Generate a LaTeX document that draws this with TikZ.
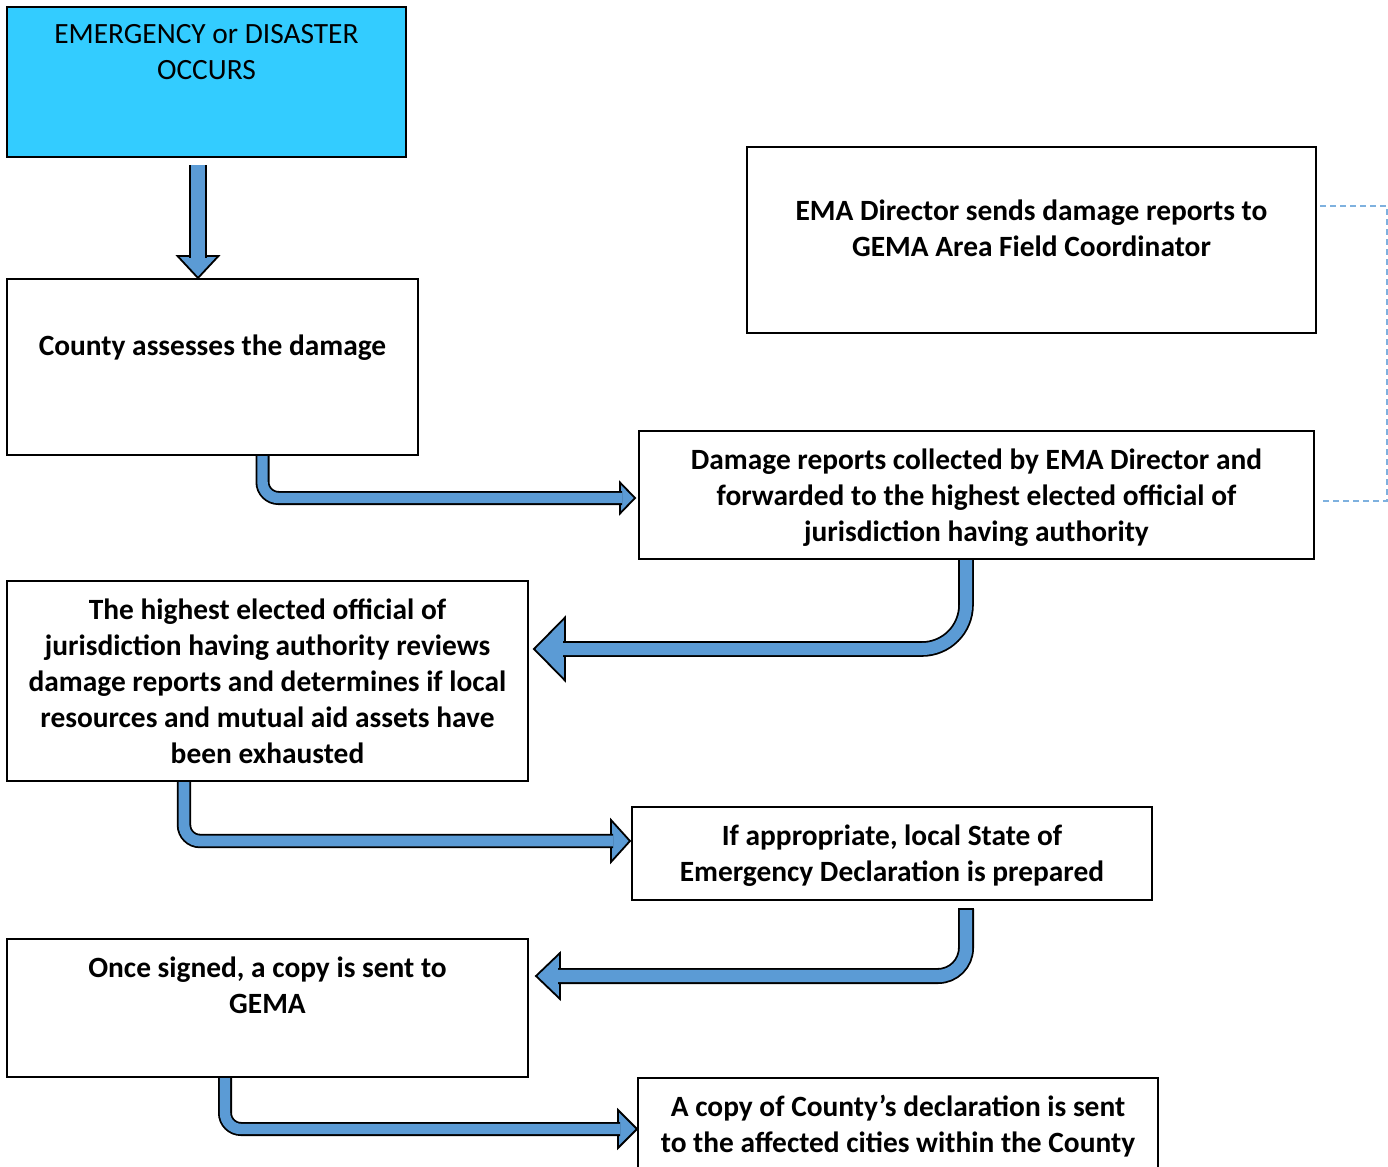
\documentclass[tikz,border=0pt]{standalone}
\usepackage{fontspec}
\setmainfont{Carlito}
\usetikzlibrary{positioning}
\definecolor{skyfill}{HTML}{33CCFF}
\definecolor{arblue}{HTML}{5B9BD5}
\definecolor{lnkblue}{HTML}{7EB1DF}

\begin{document}
\begin{tikzpicture}[
  x=0.5pt, y=-0.5pt,
  box/.style={draw=black, line width=1pt, anchor=north west, inner sep=0pt},
  txt/.style={font=\fontsize{14.7}{18}\selectfont\bfseries, align=center, inner sep=0pt,
              execute at begin node=\strut},
  plaintxt/.style={txt, font=\fontsize{14.7}{18}\selectfont},
  shaft/.style={draw=black, line width=0.9pt, double=arblue, double distance=#1},
  head/.style={fill=arblue, draw=black, line width=0.9pt, line join=miter},
  link/.style={draw=lnkblue, line width=0.6pt, dash pattern=on 3pt off 2pt},
]
\clip (0,0) rectangle (1388,1167);

% Cajas
\node[box, fill=skyfill, minimum width=199.5pt, minimum height=75pt] (occur) at (6,6) {};
\node[plaintxt, below=9pt of occur.north] (occurtxt) {EMERGENCY or DISASTER\\OCCURS};

\node[box, minimum width=205.5pt, minimum height=88pt] (county) at (6,278) {};
\node[txt, below=26pt of county.north] (countytxt) {County assesses the damage};

\node[box, minimum width=284.5pt, minimum height=93pt] (ema) at (746,146) {};
\node[txt, below=26.5pt of ema.north] (ematxt) {EMA Director sends damage reports to\\GEMA Area Field Coordinator};

\node[box, minimum width=337.5pt, minimum height=64pt] (collect) at (638,430) {};
\node[txt, below=9pt of collect.north] (collecttxt)
  {Damage reports collected by EMA Director and\\forwarded to the highest elected official of\\jurisdiction having authority};

\node[box, minimum width=260.5pt, minimum height=100pt] (official) at (6,580) {};
\node[txt, below=9pt of official.north] (officialtxt)
  {The highest elected official of\\jurisdiction having authority reviews\\damage reports and determines if local\\resources and mutual aid assets have\\been exhausted};

\node[box, minimum width=260pt, minimum height=46.5pt] (declare) at (631,806) {};
\node[txt, below=9pt of declare.north] (declaretxt)
  {If appropriate, local State of\\Emergency Declaration is prepared};

\node[box, minimum width=260.5pt, minimum height=69pt] (signed) at (6,938) {};
\node[txt, below=9pt of signed.north] (signedtxt) {Once signed, a copy is sent to\\GEMA};

\node[box, minimum width=260pt, minimum height=47.5pt] (copy) at (637,1077) {};
\node[txt, below=9pt of copy.north] (copytxt)
  {A copy of County’s declaration is sent\\to the affected cities within the County};

% Enlace punteado
\draw[link] ([xshift=1.5pt,yshift=17pt]ema.east) -- ++(67,0) |- ([xshift=2.5pt,yshift=-3pt]collect.east);

% Flechas de bloque
\coordinate (a1s) at ([xshift=-4.25pt,yshift=-3.5pt]occur.south);
\coordinate (a1t) at (a1s |- county.north);
\filldraw[head] (a1t) -- ++(-20.5,-22) -- ++(41,0) -- cycle;
\draw[shaft=7.2pt] (a1s) -- ([yshift=10pt]a1t);

\coordinate (a2s) at ([xshift=25pt]county.south);
\coordinate (a2t) at ([xshift=-1.5pt,yshift=-1.5pt]collect.west);
\filldraw[head] (a2t) -- ++(-15,-15.5) -- ++(0,31) -- cycle;
\draw[shaft=5.2pt, rounded corners=8pt] (a2s) |- ([xshift=-6.5pt]a2t);

\coordinate (a3s) at ([xshift=-5.25pt]collect.south);
\coordinate (a3t) at ([xshift=2.5pt,yshift=16pt]official.east);
\filldraw[head] (a3t) -- ++(31,-31.5) -- ++(0,63) -- cycle;
\draw[shaft=6pt, rounded corners=22pt] (a3s) |- ([xshift=14.5pt]a3t);

\coordinate (a4s) at ([xshift=-41.75pt]official.south);
\coordinate (a4t) at ([xshift=-0.5pt,yshift=6.25pt]declare.west);
\filldraw[head] (a4t) -- ++(-19,-21) -- ++(0,42) -- cycle;
\draw[shaft=5.4pt, rounded corners=8pt] (a4s) |- ([xshift=-8.5pt]a4t);

\coordinate (a5s) at ([xshift=37pt,yshift=-4pt]declare.south);
\coordinate (a5t) at ([xshift=3.5pt,yshift=16pt]signed.east);
\filldraw[head] (a5t) -- ++(24,-23) -- ++(0,46) -- cycle;
\draw[shaft=6.2pt, rounded corners=14pt] (a5s) |- ([xshift=11pt]a5t);
\draw[line width=0.9pt] ([xshift=-4pt]a5s) -- ([xshift=4pt]a5s);

\coordinate (a6s) at ([xshift=-21.25pt]signed.south);
\coordinate (a6t) at ([yshift=-1.75pt]copy.west);
\filldraw[head] (a6t) -- ++(-19,-19) -- ++(0,38) -- cycle;
\draw[shaft=5.2pt, rounded corners=8pt] (a6s) |- ([xshift=-8.5pt]a6t);
\end{tikzpicture}
\end{document}
